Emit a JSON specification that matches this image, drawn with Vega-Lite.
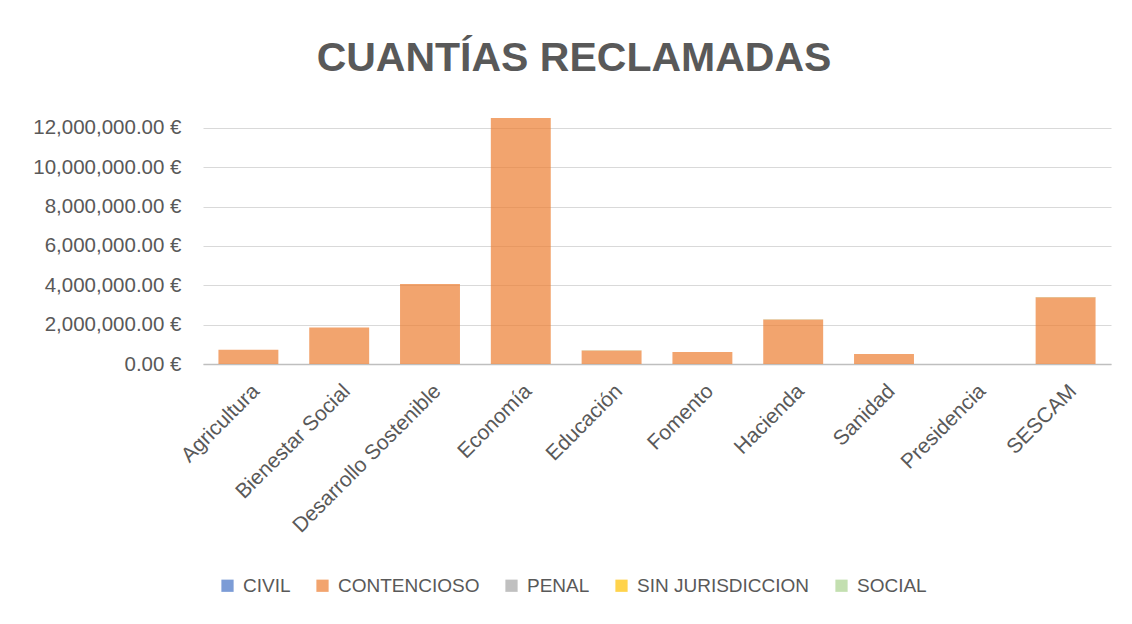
{
  "$schema": "https://vega.github.io/schema/vega-lite/v6.json",
  "autosize": "none",
  "width": 908,
  "height": 246,
  "padding": {"left": 203, "top": 118, "right": 21, "bottom": 260},
  "background": "white",
  "title": {
    "text": "CUANTÍAS RECLAMADAS",
    "fontSize": 41,
    "fontWeight": "bold",
    "font": "Liberation Sans",
    "color": "#595959",
    "anchor": "middle",
    "dx": -83,
    "offset": 38
  },
  "config": {
    "view": {"stroke": null},
    "font": "Liberation Sans"
  },
  "data": {
    "values": [
      {"dept": "Agricultura", "juris": "CONTENCIOSO", "value": 720000},
      {"dept": "Bienestar Social", "juris": "CONTENCIOSO", "value": 1850000},
      {"dept": "Desarrollo Sostenible", "juris": "CONTENCIOSO", "value": 4070000},
      {"dept": "Economía", "juris": "CONTENCIOSO", "value": 12500000},
      {"dept": "Educación", "juris": "CONTENCIOSO", "value": 690000},
      {"dept": "Educación", "juris": "SOCIAL", "value": 15000},
      {"dept": "Fomento", "juris": "CONTENCIOSO", "value": 610000},
      {"dept": "Hacienda", "juris": "CONTENCIOSO", "value": 2260000},
      {"dept": "Hacienda", "juris": "SOCIAL", "value": 20000},
      {"dept": "Sanidad", "juris": "CONTENCIOSO", "value": 510000},
      {"dept": "Presidencia", "juris": "CIVIL", "value": 0},
      {"dept": "SESCAM", "juris": "CONTENCIOSO", "value": 3390000},
      {"dept": "SESCAM", "juris": "SOCIAL", "value": 20000}
    ]
  },
  "mark": {"type": "bar", "opacity": 0.7},
  "encoding": {
    "x": {
      "field": "dept",
      "type": "nominal",
      "sort": null,
      "scale": {"paddingInner": 0.34, "paddingOuter": 0.17},
      "axis": {
        "title": null,
        "labelAngle": -45,
        "labelFontSize": 21,
        "labelColor": "#595959",
        "labelPadding": 16,
        "labelLimit": 400,
        "ticks": false,
        "domainColor": "#BFBFBF",
        "domainWidth": 1.5
      }
    },
    "y": {
      "field": "value",
      "type": "quantitative",
      "stack": "zero",
      "scale": {"domain": [0, 12500000], "nice": false},
      "axis": {
        "title": null,
        "values": [0, 2000000, 4000000, 6000000, 8000000, 10000000, 12000000],
        "labelExpr": "format(datum.value, ',.2f') + ' €'",
        "labelFontSize": 20.5,
        "labelColor": "#595959",
        "labelPadding": 22,
        "labelLimit": 300,
        "ticks": false,
        "domain": false,
        "gridColor": "#D9D9D9",
        "gridWidth": 1
      }
    },
    "color": {
      "field": "juris",
      "type": "nominal",
      "scale": {
        "domain": ["CIVIL", "CONTENCIOSO", "PENAL", "SIN JURISDICCION", "SOCIAL"],
        "range": ["#4472C4", "#ED7D31", "#A5A5A5", "#FFC000", "#A9D18E"]
      },
      "legend": {
        "title": null,
        "orient": "none",
        "direction": "horizontal",
        "legendX": 15,
        "legendY": 458,
        "symbolType": "square",
        "symbolSize": 150,
        "symbolOpacity": 0.7,
        "symbolStrokeWidth": 0,
        "labelFontSize": 19,
        "labelColor": "#595959",
        "labelLimit": 400,
        "columnPadding": 22,
        "labelOffset": 6
      }
    },
    "order": {"field": "juris"}
  }
}
